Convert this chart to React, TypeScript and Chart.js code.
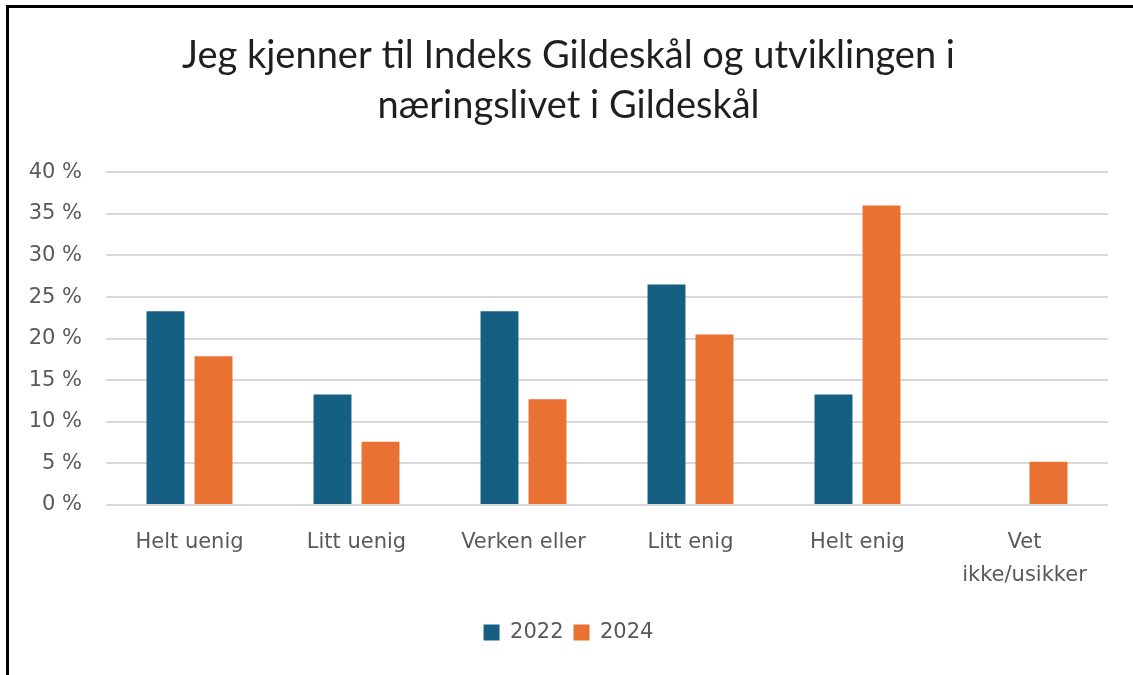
import React, { useEffect, useRef } from "react";
import { Chart, registerables } from "chart.js";

Chart.register(...registerables);

const categories: (string | string[])[] = [
  "Helt uenig",
  "Litt uenig",
  "Verken eller",
  "Litt enig",
  "Helt enig",
  ["Vet", "ikke/usikker"],
];
const values2022: number[] = [23.3, 13.3, 23.3, 26.5, 13.3, 0];
const values2024: number[] = [17.9, 7.6, 12.7, 20.5, 36.0, 5.2];
const seriesNames: string[] = ["2022", "2024"];
const titleLines: string[] = [
  "Jeg kjenner til Indeks Gildeskål og utviklingen i",
  "næringslivet i Gildeskål",
];

const BLUE = "#156082";
const ORANGE = "#E97132";
const GRAY = "#595959";
const AXIS_FONT = "'DejaVu Sans', sans-serif";

export default function App() {
  const canvasRef = useRef<HTMLCanvasElement | null>(null);

  useEffect(() => {
    if (!canvasRef.current) return;
    const chart = new Chart(canvasRef.current, {
      type: "bar",
      data: {
        labels: categories,
        datasets: [
          {
            label: seriesNames[0],
            data: values2022,
            backgroundColor: BLUE,
            borderWidth: 0,
            categoryPercentage: 0.575,
            barPercentage: 0.79,
          },
          {
            label: seriesNames[1],
            data: values2024,
            backgroundColor: ORANGE,
            borderWidth: 0,
            categoryPercentage: 0.575,
            barPercentage: 0.79,
          },
        ],
      },
      options: {
        animation: false,
        responsive: true,
        maintainAspectRatio: false,
        layout: { padding: { left: 20, right: 25, top: 0, bottom: 22 } },
        plugins: {
          title: {
            display: true,
            text: titleLines,
            color: "#1f1f1f",
            font: { family: "Lato, sans-serif", size: 38, weight: "normal", lineHeight: 1.32 },
            padding: { top: 23, bottom: 41 },
          },
          legend: {
            position: "bottom",
            labels: {
              color: GRAY,
              font: { family: AXIS_FONT, size: 21 },
              boxWidth: 16,
              boxHeight: 16,
              padding: 10,
            },
          },
          tooltip: { enabled: false },
        },
        scales: {
          x: {
            grid: { display: false, drawTicks: false },
            border: { display: false },
            ticks: {
              color: GRAY,
              font: { family: AXIS_FONT, size: 21, lineHeight: 1.57 },
              padding: 21,
              maxRotation: 0,
              autoSkip: false,
            },
            afterFit: (scale: any) => {
              scale.height = 107;
            },
          },
          y: {
            min: 0,
            max: 40,
            grid: { color: "#D9D9D9", lineWidth: 2, drawTicks: false },
            border: { display: false },
            ticks: {
              stepSize: 5,
              color: GRAY,
              font: { family: AXIS_FONT, size: 21 },
              padding: 24,
              callback: (v: any) => `${v} %`,
            },
            afterFit: (scale: any) => {
              scale.width = 77;
            },
          },
        },
      },
    });
    return () => chart.destroy();
  }, []);

  return (
    <div
      style={{
        position: "absolute",
        left: 0,
        top: 0,
        width: 1133,
        height: 675,
        background: "#fff",
        overflow: "hidden",
      }}
    >
      <div
        style={{
          position: "absolute",
          left: 6,
          top: 5,
          right: 0,
          bottom: 0,
          borderLeft: "3px solid #000",
          borderTop: "3px solid #000",
        }}
      >
        <div style={{ position: "relative", width: "100%", height: "100%" }}>
          <canvas ref={canvasRef} />
        </div>
      </div>
    </div>
  );
}
